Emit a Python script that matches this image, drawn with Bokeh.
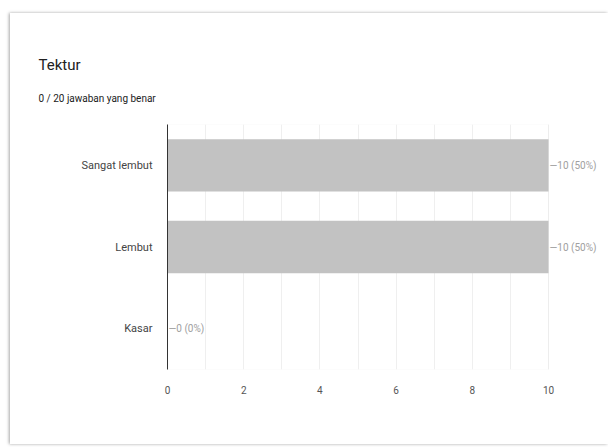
from bokeh.plotting import figure
from bokeh.models import (ColumnDataSource, LabelSet, Title, BoxAnnotation,
                          FactorRange, FixedTicker, SingleIntervalTicker, Range1d)
from bokeh.core.properties import value
from bokeh.embed import file_html
from bokeh.resources import INLINE

title = "Tektur"
subtitle = "0 / 20 jawaban yang benar"
categories = ["Sangat lembut", "Lembut", "Kasar"]
counts = [10, 10, 0]
total = 20
x_ticks = [0, 2, 4, 6, 8, 10]
labels = [f"\u2014{c} ({round(c * 100 / total)}%)" for c in counts]

W, H = 598, 431
FONT = "Roboto"

x_max = 10
x_end = x_max * (W - 157) / 381.0

p = figure(width=W, height=H, output_backend="svg", toolbar_location=None,
           y_range=FactorRange(*reversed(categories), range_padding=0),
           x_range=Range1d(0, x_end), title=None,
           min_border_left=157, min_border_right=0,
           min_border_top=111, min_border_bottom=75,
           background_fill_color="white", border_fill_color="white",
           outline_line_color=None)
p.margin = (13, 0, 0, 10)
p.styles = {"box-shadow": "-1px 0px 3px rgba(0,0,0,0.35)"}

src = ColumnDataSource(dict(cat=categories, val=counts, lab=labels))
p.hbar(y="cat", right="val", left=0, height=0.64, source=src,
       fill_color="#c2c2c2", line_color=None)

# plot-area boundary (light)
p.add_layout(BoxAnnotation(left=0, right=x_max, fill_color=None,
                           line_color="#e8e8e8", line_width=1, level="underlay"))

p.add_layout(LabelSet(x="val", y="cat", text="lab", source=src, x_offset=1,
                      text_font=value(FONT), text_font_size="10px",
                      text_color="#a0a0a0",
                      text_baseline="middle", text_align="left"))

p.add_layout(Title(text=subtitle, text_font=FONT, text_font_size="10px",
                   text_font_style="normal", text_color="#212121",
                   vertical_align="top",
                   standoff=38, offset=-129), "above")
p.add_layout(Title(text=title, text_font=FONT, text_font_size="15px",
                   text_font_style="normal", text_color="#212121",
                   vertical_align="bottom",
                   standoff=0, offset=-129), "above")

p.xaxis.ticker = FixedTicker(ticks=x_ticks)
p.xaxis.axis_line_color = None
p.xaxis.major_tick_line_color = None
p.xaxis.minor_tick_line_color = None
p.xaxis.major_label_text_font = FONT
p.xaxis.major_label_text_font_size = "10px"
p.xaxis.major_label_text_color = "#555555"
p.xaxis.major_label_standoff = 10

p.yaxis.axis_line_color = "#333333"
p.yaxis.major_tick_line_color = None
p.yaxis.minor_tick_line_color = None
p.yaxis.major_label_text_font = FONT
p.yaxis.major_label_text_font_size = "11px"
p.yaxis.major_label_text_color = "#444444"
p.yaxis.major_label_standoff = 9

p.xgrid.ticker = SingleIntervalTicker(interval=1)
p.xgrid.bounds = (0, x_max)
p.xgrid.grid_line_color = "#efefef"
p.ygrid.grid_line_color = None

open("out.html", "w").write(file_html(p, INLINE))
